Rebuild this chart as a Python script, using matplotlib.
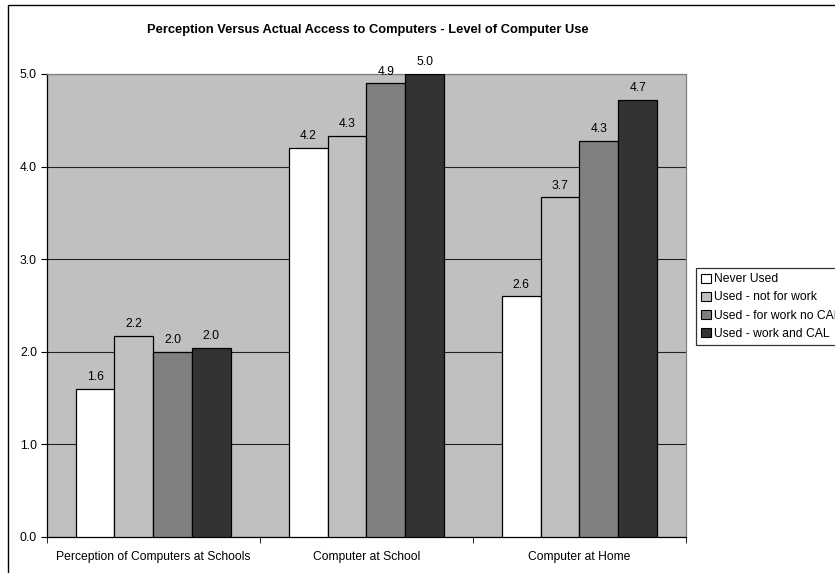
import matplotlib
matplotlib.use("Agg")
import matplotlib.pyplot as plt
from matplotlib.patches import Rectangle
import numpy as np

categories = ["Perception of Computers at Schools", "Computer at School", "Computer at Home"]
series_names = ["Never Used", "Used - not for work", "Used - for work no CAL", "Used - work and CAL"]
never_used = [1.60, 4.20, 2.60]
not_for_work = [2.17, 4.33, 3.67]
work_no_cal = [2.00, 4.90, 4.28]
work_and_cal = [2.04, 5.00, 4.72]
value_labels = [["1.6", "4.2", "2.6"], ["2.2", "4.3", "3.7"], ["2.0", "4.9", "4.3"], ["2.0", "5.0", "4.7"]]
y_ticks = [0.0, 1.0, 2.0, 3.0, 4.0, 5.0]
title = "Perception Versus Actual Access to Computers - Level of Computer Use"

colors = ["#FFFFFF", "#C0C0C0", "#808080", "#333333"]
series = [never_used, not_for_work, work_no_cal, work_and_cal]

plt.rcParams['font.family'] = ['Liberation Sans', 'DejaVu Sans']
fs = 8.7

fig = plt.figure(figsize=(8.35, 5.73), dpi=100)
fig.patch.set_facecolor("white")
ax = fig.add_axes([46.7/835, 36.3/573, (686-46.7)/835, (536.7-74)/573])
ax.set_facecolor("#C0C0C0")

n = len(series)
x = np.arange(len(categories))
bw = 0.182
for i, (vals, c) in enumerate(zip(series, colors)):
    pos = x + (i - (n - 1) / 2) * bw
    ax.bar(pos, vals, width=bw, color=c, edgecolor="black", linewidth=0.9,
           label=series_names[i], zorder=3)
    for p, v, lab in zip(pos, vals, value_labels[i]):
        ax.annotate(lab, (p, v), xytext=(0, 4), textcoords="offset points",
                    ha="center", va="bottom", fontsize=fs, color="black",
                    annotation_clip=False)

ax.set_xlim(-0.5, len(categories) - 0.5)
ax.set_ylim(0, 5.0)
ax.set_yticks(y_ticks)
ax.set_yticklabels([f"{t:.1f}" for t in y_ticks], fontsize=fs)
ax.yaxis.grid(True, color="#202020", linewidth=0.8, zorder=1)
ax.set_axisbelow(True)

ax.set_xticks(x)
ax.set_xticklabels(categories, fontsize=fs)
ax.tick_params(axis="x", which="major", length=0, pad=10)
ax.set_xticks(np.arange(len(categories) + 1) - 0.5, minor=True)
ax.tick_params(axis="x", which="minor", length=4, direction="out", color="black")
ax.tick_params(axis="y", length=4, direction="out", color="black", pad=3)

for s in ["left", "bottom"]:
    ax.spines[s].set_color("black")
    ax.spines[s].set_linewidth(0.9)
for s in ["top", "right"]:
    ax.spines[s].set_color("#808080")
    ax.spines[s].set_linewidth(0.9)

fig.text(368/835, 1 - 30/573, title, ha="center", va="center",
         fontsize=9.3, fontweight="bold")

handles = [Rectangle((0, 0), 1, 1, facecolor=c, edgecolor="black", linewidth=0.8) for c in colors]
leg = fig.legend(handles, series_names, loc="upper left",
                 bbox_to_anchor=(696/835, 1 - 268/573), fontsize=fs,
                 frameon=True, fancybox=False, edgecolor="black",
                 handlelength=0.75, handleheight=0.75, handletextpad=0.3,
                 labelspacing=0.5, borderpad=0.45, borderaxespad=0)
leg.get_frame().set_linewidth(0.9)

border = Rectangle((8/835, -0.2), 2.0, 1.2 - 4.5/573, transform=fig.transFigure,
                   fill=False, edgecolor="black", linewidth=1.0)
border.set_clip_on(False)
fig.patches.append(border)

fig.savefig("out.png", dpi=100)
